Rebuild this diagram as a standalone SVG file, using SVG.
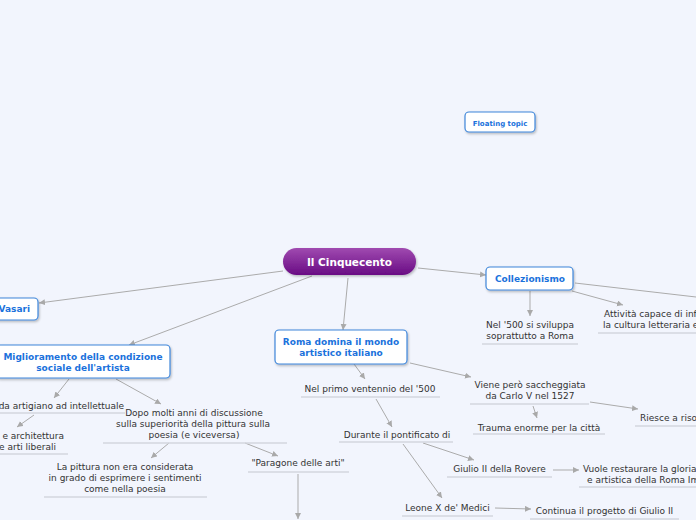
<svg xmlns="http://www.w3.org/2000/svg" width="696" height="520" viewBox="0 0 696 520">
<defs>
<linearGradient id="rootGrad" x1="0" y1="0" x2="0" y2="1">
<stop offset="0" stop-color="#a04ab0"/>
<stop offset="1" stop-color="#690c84"/>
</linearGradient>
<filter id="shadow" x="-20%" y="-30%" width="140%" height="170%">
<feDropShadow dx="1" dy="1.5" stdDeviation="1" flood-color="#000" flood-opacity="0.25"/>
</filter>
<marker id="arr" markerUnits="userSpaceOnUse" markerWidth="7" markerHeight="7" refX="6" refY="3" orient="auto">
<path d="M0,0 L6,3 L0,6 z" fill="#a9a9a9"/>
</marker>
<style>
.conn{stroke:#ababab;stroke-width:1;fill:none;marker-end:url(#arr)}
.ul{stroke:#d3d6de;stroke-width:1.5}
.box{fill:#fff;stroke:#3f86da;stroke-width:1.2;filter:url(#shadow)}
.bt{font-family:"DejaVu Sans",Verdana,sans-serif;font-weight:bold;font-size:9px;fill:#1b72dc;text-anchor:middle}
.t{font-family:"DejaVu Sans",Verdana,sans-serif;font-size:9px;fill:#333;text-anchor:middle}
</style>
</defs>
<rect width="696" height="520" fill="#f2f5fd"/>

<g id="connectors">
<line class="conn" x1="283" y1="271" x2="39" y2="303"/>
<line class="conn" x1="312" y1="276" x2="129" y2="345"/>
<line class="conn" x1="348" y1="278" x2="343" y2="330"/>
<line class="conn" x1="418" y1="268" x2="486" y2="275"/>
<line class="conn" x1="530" y1="291" x2="530" y2="316"/>
<line class="conn" x1="572" y1="291" x2="623" y2="305"/>
<line x1="575" y1="283" x2="696" y2="297" stroke="#ababab" stroke-width="1"/>
<line class="conn" x1="354" y1="364" x2="365" y2="379"/>
<line class="conn" x1="410" y1="363" x2="471" y2="377"/>
<line class="conn" x1="533" y1="406" x2="537" y2="418"/>
<line class="conn" x1="590" y1="402" x2="638" y2="409"/>
<line class="conn" x1="376" y1="399" x2="392" y2="427"/>
<line class="conn" x1="423" y1="443" x2="474" y2="460"/>
<line class="conn" x1="553" y1="470" x2="579" y2="470"/>
<line class="conn" x1="403" y1="444" x2="442" y2="498"/>
<line class="conn" x1="495" y1="508" x2="531" y2="509"/>
<line class="conn" x1="298" y1="474" x2="298" y2="519"/>
<line class="conn" x1="245" y1="443" x2="278" y2="456"/>
<line class="conn" x1="116" y1="379" x2="161" y2="404"/>
<line class="conn" x1="69" y1="379" x2="54" y2="398"/>
<line class="conn" x1="34" y1="415" x2="17" y2="427"/>
<line class="conn" x1="169" y1="443" x2="151" y2="458"/>
</g>

<g id="floating">
<rect class="box" x="465" y="112" width="70" height="20" rx="4"/>
<text class="bt" x="500" y="125.5" style="font-size:7px">Floating topic</text>
</g>

<g id="root">
<rect x="283" y="248" width="133" height="27" rx="13.5" fill="url(#rootGrad)" filter="url(#shadow)"/>
<text x="349.5" y="265.8" font-family="DejaVu Sans, Verdana, sans-serif" font-weight="bold" font-size="10.5" fill="#fff" text-anchor="middle">Il Cinquecento</text>
</g>

<g id="vasari">
<rect class="box" x="-30" y="298" width="68" height="22" rx="4"/>
<text class="bt" x="30" y="312.3" style="text-anchor:end">Vasari</text>
</g>

<g id="collezionismo">
<rect class="box" x="486" y="267" width="87" height="23" rx="4"/>
<text class="bt" x="530" y="282">Collezionismo</text>
</g>

<g id="miglioramento">
<rect class="box" x="-4" y="345" width="174" height="33" rx="4"/>
<text class="bt" x="83" y="359.5">Miglioramento della condizione</text>
<text class="bt" x="83" y="370.5">sociale dell'artista</text>
</g>

<g id="roma">
<rect class="box" x="275" y="330" width="132" height="34" rx="4"/>
<text class="bt" x="341" y="344.5">Roma domina il mondo</text>
<text class="bt" x="341" y="356">artistico italiano</text>
</g>

<g id="nel500">
<text class="t" x="530" y="328">Nel '500 si sviluppa</text>
<text class="t" x="530" y="339">soprattutto a Roma</text>
<line class="ul" x1="482" y1="344" x2="578" y2="344"/>
</g>

<g id="attivita">
<text class="t" x="604" y="317" style="text-anchor:start">Attività capace di inf</text>
<text class="t" x="603" y="328" style="text-anchor:start">la cultura letteraria e</text>
<line class="ul" x1="598" y1="333" x2="696" y2="333"/>
</g>

<g id="primoventennio">
<text class="t" x="370" y="392">Nel primo ventennio del '500</text>
<line class="ul" x1="301" y1="397" x2="440" y2="397"/>
</g>

<g id="saccheggiata">
<text class="t" x="530" y="388">Viene però saccheggiata</text>
<text class="t" x="530" y="399">da Carlo V nel 1527</text>
<line class="ul" x1="470" y1="404" x2="589" y2="404"/>
</g>

<g id="trauma">
<text class="t" x="539" y="431">Trauma enorme per la città</text>
<line class="ul" x1="473" y1="434" x2="605" y2="434"/>
</g>

<g id="riesce">
<text class="t" x="640" y="421" style="text-anchor:start">Riesce a riso</text>
<line class="ul" x1="635" y1="426" x2="696" y2="426"/>
</g>

<g id="durante">
<text class="t" x="397" y="438">Durante il pontificato di</text>
<line class="ul" x1="339" y1="442" x2="453" y2="442"/>
</g>

<g id="giulio">
<text class="t" x="499.5" y="472">Giulio II della Rovere</text>
<line class="ul" x1="447" y1="477" x2="552" y2="477"/>
</g>

<g id="vuole">
<text class="t" x="583" y="472" style="text-anchor:start">Vuole restaurare la gloria</text>
<text class="t" x="587" y="483" style="text-anchor:start">e artistica della Roma Im</text>
<line class="ul" x1="579" y1="487" x2="696" y2="487"/>
</g>

<g id="leone">
<text class="t" x="447.5" y="511">Leone X de' Medici</text>
<line class="ul" x1="402" y1="516" x2="493" y2="516"/>
</g>

<g id="continua">
<text class="t" x="604.5" y="514">Continua il progetto di Giulio II</text>
<line class="ul" x1="530" y1="519" x2="679" y2="519"/>
</g>

<g id="paragone">
<text class="t" x="298" y="466">"Paragone delle arti"</text>
<line class="ul" x1="248" y1="472" x2="349" y2="472"/>
</g>

<g id="dopo">
<text class="t" x="194" y="416">Dopo molti anni di discussione</text>
<text class="t" x="193" y="427">sulla superiorità della pittura sulla</text>
<text class="t" x="194" y="438">poesia (e viceversa)</text>
<line class="ul" x1="103" y1="443" x2="287" y2="443"/>
</g>

<g id="artigiano">
<text class="t" x="124" y="409" style="text-anchor:end">da artigiano ad intellettuale</text>
<line class="ul" x1="0" y1="413" x2="125" y2="413"/>
</g>

<g id="architettura">
<text class="t" x="64" y="439" style="text-anchor:end">e architettura</text>
<text class="t" x="56" y="450" style="text-anchor:end">e arti liberali</text>
<line class="ul" x1="0" y1="454" x2="68" y2="454"/>
</g>

<g id="pittura">
<text class="t" x="125" y="470">La pittura non era considerata</text>
<text class="t" x="125" y="481">in grado di esprimere i sentimenti</text>
<text class="t" x="125" y="492">come nella poesia</text>
<line class="ul" x1="44" y1="497" x2="207" y2="497"/>
</g>
</svg>
